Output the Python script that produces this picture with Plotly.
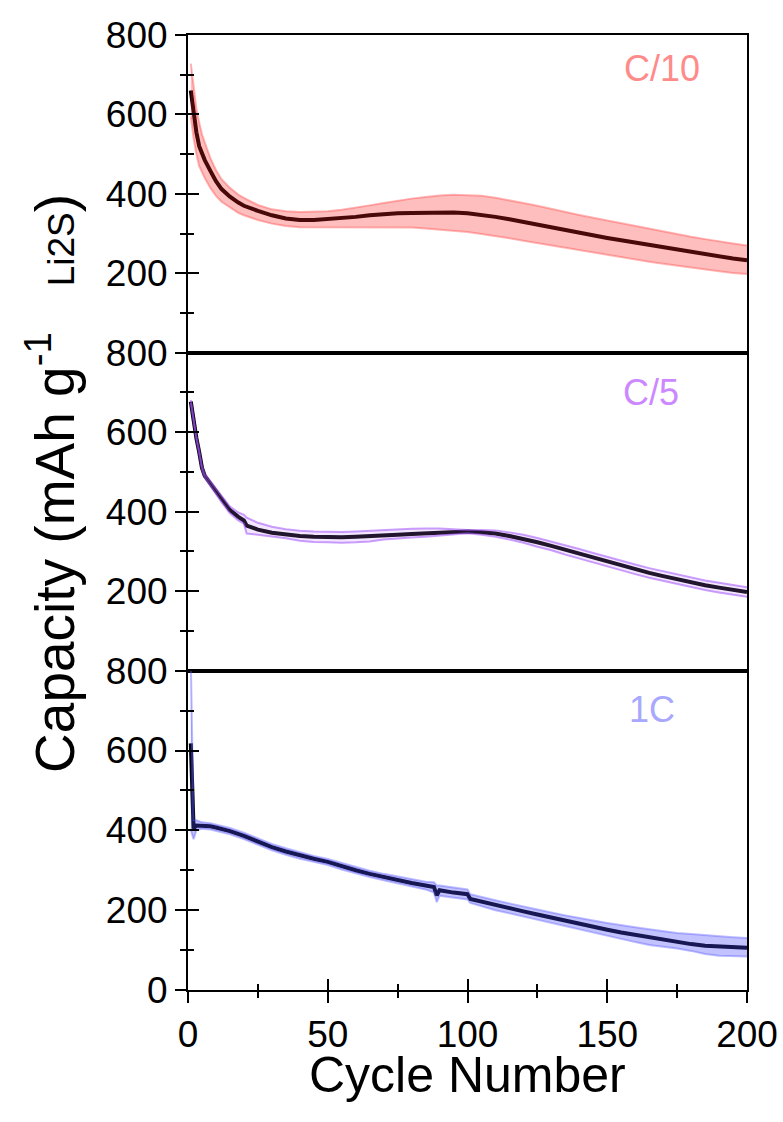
import plotly.graph_objects as go

# ---------------- data ----------------
# C/10
c10_cycle = [1, 2, 3, 4, 5, 6, 8, 10, 12, 15, 18, 20, 25, 30, 35, 40, 45, 50, 55, 60, 65, 70, 75, 80,
             85, 90, 95, 100, 105, 110, 115, 120, 125, 130, 135, 140, 145, 150, 155, 160, 165, 170,
             175, 180, 185, 190, 195, 200]
c10_mean = [660, 600, 555, 520, 500, 485, 458, 432, 412, 393, 378, 370, 357, 346, 338, 334, 334, 336,
            338, 342, 346, 349, 351, 352, 353, 354, 353, 351, 347, 342, 336, 329, 322, 315, 308, 301,
            295, 289, 283, 277, 271, 265, 259, 253, 247, 242, 237, 233]
c10_upper = [728, 665, 615, 580, 550, 530, 490, 460, 437, 415, 398, 390, 372, 361, 356, 354, 355, 356,
             360, 365, 371, 377, 383, 388, 392, 396, 398, 397, 395, 390, 384, 377, 370, 362, 355, 347,
             340, 333, 326, 319, 313, 306, 299, 292, 286, 280, 275, 270]
c10_lower = [595, 540, 500, 470, 455, 440, 415, 395, 380, 365, 352, 346, 334, 325, 319, 316, 316, 316,
             316, 316, 316, 316, 316, 315, 313, 310, 307, 304, 299, 294, 288, 282, 276, 270, 264, 258,
             252, 246, 240, 234, 229, 224, 219, 214, 210, 205, 201, 198]

# C/5
c5_cycle = [1, 2, 3, 4, 5, 6, 8, 10, 12, 15, 18, 20, 21, 25, 30, 35, 40, 45, 50, 55, 60, 65, 70, 75,
            80, 85, 90, 95, 100, 105, 110, 115, 120, 125, 130, 135, 140, 145, 150, 155, 160, 165,
            170, 175, 180, 185, 190, 195, 200]
c5_mean = [677, 625, 585, 550, 510, 490, 470, 450, 432, 404, 387, 378, 365, 355, 347, 342, 339, 337,
           336, 336, 337, 338, 340, 342, 344, 346, 348, 349, 350, 348, 345, 339, 332, 323, 314, 304,
           294, 284, 274, 264, 255, 246, 238, 230, 222, 215, 209, 203, 198]
c5_upper = [681, 630, 590, 555, 515, 495, 476, 457, 440, 413, 398, 392, 385, 372, 362, 356, 352, 350,
            349, 349, 350, 352, 354, 355, 357, 358, 358, 356, 354, 354, 353, 348, 342, 334, 325, 316,
            306, 296, 286, 276, 267, 258, 250, 242, 234, 227, 221, 215, 210]
c5_lower = [673, 620, 580, 545, 505, 485, 464, 443, 424, 396, 378, 370, 345, 342, 338, 333, 327, 324,
            323, 322, 323, 325, 330, 333, 335, 337, 340, 343, 346, 342, 337, 330, 322, 312, 303, 292,
            282, 272, 262, 252, 243, 234, 226, 218, 210, 203, 197, 191, 186]

# 1C
c1_cycle = [1, 2, 3, 5, 8, 10, 15, 20, 25, 30, 35, 40, 45, 50, 55, 60, 65, 70, 75, 80, 85, 88, 89, 90,
            95, 100, 101, 105, 110, 115, 120, 125, 130, 135, 140, 145, 150, 155, 160, 165, 170, 175,
            180, 185, 190, 195, 200]
c1_mean = [618, 405, 412, 412, 410, 407, 398, 386, 372, 358, 347, 337, 329, 321, 310, 300, 291, 283,
           276, 268, 262, 258, 237, 250, 244, 240, 228, 222, 213, 205, 197, 189, 181, 174, 166, 159,
           151, 144, 138, 131, 126, 120, 115, 111, 109, 108, 106]
c1_upper = [830, 425, 425, 420, 418, 415, 406, 394, 380, 366, 355, 345, 336, 328, 318, 308, 299, 291,
            284, 277, 271, 270, 262, 262, 257, 252, 240, 234, 225, 217, 209, 201, 194, 187, 180, 174,
            168, 162, 157, 152, 147, 143, 140, 137, 134, 132, 130]
c1_lower = [400, 378, 400, 404, 402, 399, 390, 378, 364, 350, 339, 329, 321, 313, 302, 292, 283, 275,
            267, 259, 252, 244, 220, 236, 232, 227, 218, 210, 200, 192, 184, 176, 168, 160, 152, 144,
            135, 127, 120, 113, 109, 104, 98, 90, 86, 85, 84]

rate_labels = ["C/10", "C/5", "1C"]
y_ticks_upper = [200, 400, 600, 800]
y_ticks_bottom = [0, 200, 400, 600, 800]
y_minor = [100, 300, 500, 700]
x_ticks = [0, 50, 100, 150, 200]
x_minor = [25, 75, 125, 175]

# ---------------- style ----------------
FONT = "Liberation Sans, Arial, sans-serif"
panels = [
    dict(cyc=c10_cycle, mean=c10_mean, up=c10_upper, lo=c10_lower,
         fill="rgba(255,30,30,0.29)", edge="rgba(255,70,70,0.4)", label_color="#ff8a8a",
         xa="x", ya="y"),
    dict(cyc=c5_cycle, mean=c5_mean, up=c5_upper, lo=c5_lower,
         fill="rgba(190,120,255,0.18)", edge="rgba(160,80,250,0.55)", label_color="#cc88ff",
         xa="x2", ya="y2"),
    dict(cyc=c1_cycle, mean=c1_mean, up=c1_upper, lo=c1_lower,
         fill="rgba(70,70,255,0.33)", edge="rgba(90,90,255,0.4)", label_color="#a8a8ff",
         xa="x3", ya="y3"),
]

fig = go.Figure()
for p in panels:
    fig.add_trace(go.Scatter(x=p["cyc"], y=p["mean"], mode="lines",
                             line=dict(color="black", width=4),
                             xaxis=p["xa"], yaxis=p["ya"], showlegend=False))
    fig.add_trace(go.Scatter(x=p["cyc"], y=p["up"], mode="lines",
                             line=dict(color=p["edge"], width=2),
                             xaxis=p["xa"], yaxis=p["ya"], showlegend=False))
    fig.add_trace(go.Scatter(x=p["cyc"], y=p["lo"], mode="lines", fill="tonexty",
                             fillcolor=p["fill"], line=dict(color=p["edge"], width=2),
                             xaxis=p["xa"], yaxis=p["ya"], showlegend=False))

# dummy traces for overlay (inside-tick) axes
for xa, ya in [("x", "y4"), ("x2", "y5"), ("x3", "y6"), ("x4", "y3")]:
    fig.add_trace(go.Scatter(x=[None], y=[None], xaxis=xa, yaxis=ya, showlegend=False,
                             hoverinfo="skip"))

top_px, bot_px = 35, 990
H = bot_px - top_px
b1 = (990 - 352.7) / H
b2 = (990 - 670.7) / H
domains = [[b1, 1.0], [b2, b1], [0.0, b2]]

tickfont = dict(family=FONT, size=37, color="black")
axis_common = dict(showline=True, linewidth=2, linecolor="black", mirror=True,
                   showgrid=False, zeroline=False, automargin=False)

lay = dict(width=783, height=1122, autosize=False, paper_bgcolor="white", plot_bgcolor="white",
           margin=dict(l=188, r=36, t=35, b=132), showlegend=False,
           font=dict(family=FONT, color="black"))

for i in range(3):
    xs = "xaxis" if i == 0 else f"xaxis{i+1}"
    ys = "yaxis" if i == 0 else f"yaxis{i+1}"
    ya = "y" if i == 0 else f"y{i+1}"
    xa = "x" if i == 0 else f"x{i+1}"
    bottom = (i == 2)
    xd = dict(axis_common, domain=[0, 1], range=[0, 200], anchor=ya)
    if bottom:
        xd.update(ticks="outside", ticklen=11, tickwidth=2, tickcolor="black",
                  tickmode="array", tickvals=x_ticks, tickfont=tickfont,
                  ticklabeloverflow="allow",
                  minor=dict(ticks="outside", ticklen=6, tickwidth=2, tickcolor="black",
                             tickmode="array", tickvals=x_minor))
    else:
        xd.update(ticks="", showticklabels=False)
    lay[xs] = xd
    tv = y_ticks_bottom if bottom else y_ticks_upper
    lay[ys] = dict(axis_common, domain=domains[i], range=[0, 800], anchor=xa,
                   ticks="outside", ticklen=11, tickwidth=2, tickcolor="black",
                   tickmode="array", tickvals=tv, tickfont=tickfont,
                   ticklabeloverflow="allow",
                   minor=dict(ticks="outside", ticklen=6, tickwidth=2, tickcolor="black",
                              tickmode="array", tickvals=y_minor))
    # overlay axis for inside half of crossing ticks
    lay[f"yaxis{i+4}"] = dict(overlaying=ya, anchor=xa, side="left", range=[0, 800],
                              showline=False, showgrid=False, zeroline=False, automargin=False,
                              showticklabels=False, ticks="inside", ticklen=11, tickwidth=2,
                              tickcolor="black", tickmode="array", tickvals=y_ticks_bottom,
                              minor=dict(ticks="inside", ticklen=6, tickwidth=2,
                                         tickcolor="black", tickmode="array", tickvals=y_minor))

lay["xaxis4"] = dict(overlaying="x3", anchor="y3", side="bottom", range=[0, 200],
                     showline=False, showgrid=False, zeroline=False, showticklabels=False,
                     automargin=False,
                     ticks="inside", ticklen=11, tickwidth=2, tickcolor="black",
                     tickmode="array", tickvals=x_ticks,
                     minor=dict(ticks="inside", ticklen=6, tickwidth=2, tickcolor="black",
                                tickmode="array", tickvals=x_minor))

fig.update_layout(**lay)

# rate labels
label_pos = [(169.6, 715), (165.6, 699), (166, 704)]
for p, lab, (lx, ly) in zip(panels, rate_labels, label_pos):
    fig.add_annotation(x=lx, y=ly, xref=p["xa"], yref=p["ya"], text=lab, showarrow=False,
                       font=dict(family=FONT, size=36, color=p["label_color"]),
                       xanchor="center", yanchor="middle")

# axis titles
fig.add_annotation(x=0.5, y=-0.089, xref="paper", yref="paper", text="Cycle Number",
                   showarrow=False, font=dict(family=FONT, size=50, color="black"),
                   xanchor="center", yanchor="middle")
fig.add_annotation(x=-0.245, y=0.53, xref="paper", yref="paper",
                   text="Capacity (mAh g<sup>-1</sup>\u00a0\u00a0\u00a0<span style='font-size:37px'>Li2S</span>)",
                   textangle=-90, showarrow=False,
                   font=dict(family=FONT, size=55, color="black"),
                   xanchor="center", yanchor="middle")

fig.write_html("out.html")
